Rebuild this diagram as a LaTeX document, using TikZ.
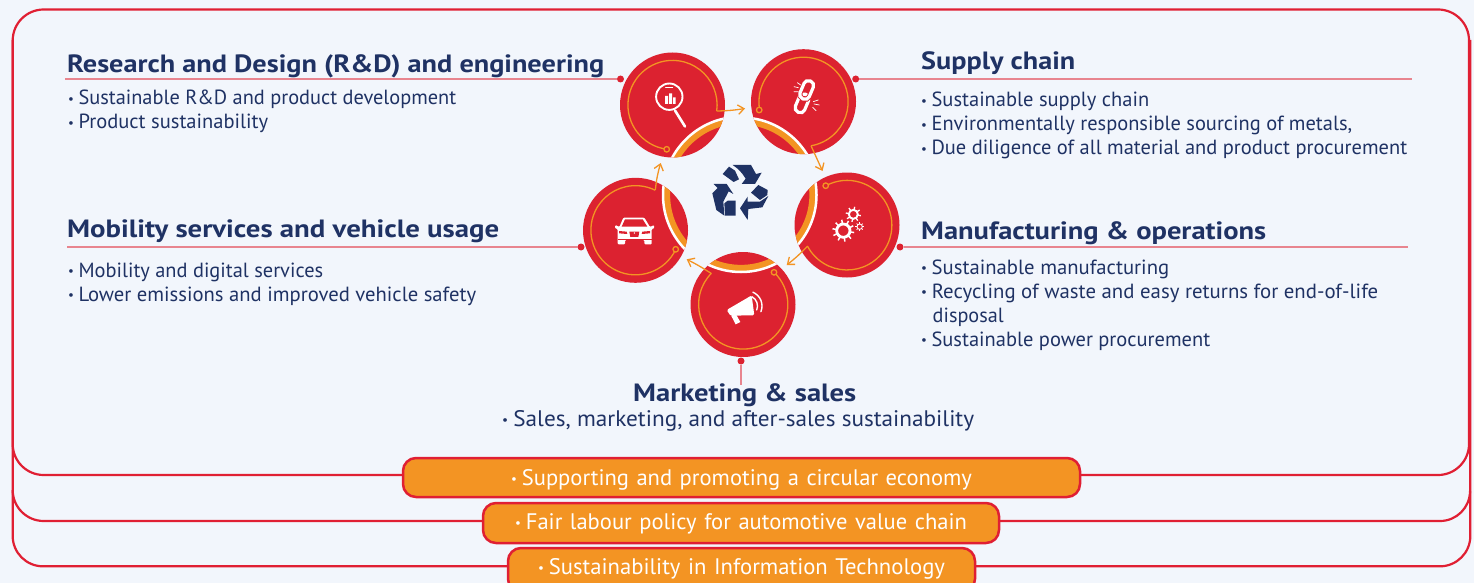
\documentclass[tikz,border=0pt]{standalone}
\usepackage{fontspec}
\usepackage{graphicx}
\usetikzlibrary{arrows.meta}
\setmainfont{PT Sans}
\definecolor{pagebg}{HTML}{F2F6FC}
\definecolor{navy}{HTML}{1F3264}
\definecolor{discred}{HTML}{DC2230}
\definecolor{edgered}{HTML}{E01F33}
\definecolor{paleline}{HTML}{E8858F}
\definecolor{amber}{HTML}{F39423}
\newsavebox\fitbox
\newcommand\fitw[2]{\sbox\fitbox{#2}\pgfmathsetmacro\fitr{#1/\the\wd\fitbox}\scalebox{\fitr}[1]{\usebox\fitbox}}
\newcommand\bul{{\fontsize{13}{13}\selectfont\raisebox{.2ex}{•}}\hspace{.22em}}
\newcommand\discat[4]{%
  \node[discnode] (#1) at (#2,#3) {};
  \begin{scope}
    \clip (#2,#3) circle[radius=52.5];
    \draw[amber,line width=6.5pt] (741,-195) circle[radius=#4-3.9];
    \draw[white,line width=2.5pt] (741,-195) circle[radius=#4];
  \end{scope}}
\newcommand\gearat[7]{% x y ring-radius outer-radius ring-width teeth-step tooth-width
  \draw[iconline,line width=#5] (#1,#2) circle[radius=#3];
  \foreach \a in {0,#6,...,359}{\draw[white,line width=#7] (#1,#2) ++(\a+10:#3) -- ++(\a+10:#4-#3);}}
\tikzset{
  x=1pt,y=1pt,
  discnode/.style={circle,fill=discred,minimum size=105pt,inner sep=0pt,outer sep=0pt},
  headtext/.style={anchor=base west,inner sep=0pt,text=navy,font=\bfseries\fontsize{25}{25}\selectfont},
  bodytext/.style={anchor=base west,inner sep=0pt,text=navy,font=\fontsize{20.5}{24}\selectfont},
  leader/.style={paleline,line width=1.1pt},
  leaddot/.style={circle,fill=discred,minimum size=7pt,inner sep=0pt,outer sep=0pt},
  frameline/.style={edgered,line width=2.2pt},
  ribbon/.style={anchor=north west,draw=edgered,fill=amber,line width=2.5pt,rounded corners=13pt,inner sep=0pt,outer sep=0pt,align=center,text=white,font=\fontsize{22.5}{24}\selectfont},
  circuit/.style={amber,line width=1.3pt},
  flow/.style={circuit,-{Straight Barb[length=6pt,width=9.5pt,line width=1.3pt]}},
  ringmark/.style={circle,draw=amber,fill=discred,line width=1.3pt,minimum size=5.5pt,inner sep=0pt},
  iconline/.style={white,line cap=round},
}
\begin{document}
\begin{tikzpicture}
\useasboundingbox (0,0) rectangle (1474,-583);
\clip (0,0) rectangle (1474,-583);
\fill[pagebg] (0,0) rectangle (1474,-583);

% frames
\draw[frameline] (12.7,-40) -- (12.7,-536) arc[start angle=180,end angle=270,radius=30.3] -- (1440,-566.3) arc[start angle=270,end angle=360,radius=30.3] -- (1470.3,-40);
\draw[frameline] (12.7,-490) arc[start angle=180,end angle=270,radius=31] -- (1440,-521) arc[start angle=270,end angle=360,radius=30] -- (1470,-491);
\draw[frameline] (43.7,-9.5) -- (1438,-9.5) arc[start angle=90,end angle=0,radius=31] -- (1469,-444) arc[start angle=0,end angle=-90,radius=31] -- (43.7,-475) arc[start angle=270,end angle=180,radius=31] -- (12.7,-40.5) arc[start angle=180,end angle=90,radius=31] -- cycle;

% ribbons
\node[ribbon,text width=677pt,text height=27pt,text depth=12pt] (rib1) at (403,-458) {\fitw{461}{\bul Supporting and promoting a circular economy}};
\node[ribbon,text width=516pt,text height=26pt,text depth=14pt] (rib2) at (483,-503) {\fitw{452}{\bul Fair labour policy for automotive value chain}};
\node[ribbon,text width=467pt,text height=26pt,text depth=18pt] (rib3) at (508,-548) {\fitw{407}{\bul Sustainability in Information Technology}};

% discs
\discat{rd}{672.5}{-105}{78.3}
\discat{sc}{803.5}{-101.7}{77.5}
\discat{mf}{847}{-225}{75.5}
\discat{ms}{743}{-304.5}{77}
\discat{mb}{635.5}{-230.3}{78}

% circuits with arrows
\coordinate (rdend) at (716.6,-111);
\coordinate (rdtip) at (745,-108.5);
\coordinate (scend) at (811,-145.7);
\coordinate (sctip) at (822.5,-171);
\coordinate (mfend) at (807.7,-246);
\coordinate (mftip) at (786.7,-265);
\coordinate (msend) at (711.3,-273.5);
\coordinate (mstip) at (686.7,-259.3);
\coordinate (mbend) at (655.3,-190);
\coordinate (mbtip) at (660.7,-163);

\draw[circuit] (666.7,-149.2) arc[start angle=262.5,end angle=-7.7,radius=44.6];
\draw[circuit] (759.7,-110) arc[start angle=190.6,end angle=-80.3,radius=44.6];
\draw[circuit] (825.7,-185.8) arc[start angle=118.5,end angle=-152.1,radius=44.8];
\draw[circuit] (774.2,-272.4) arc[start angle=46,end angle=-224.5,radius=44.6];
\draw[circuit] (675.8,-249.3) arc[start angle=-25.3,end angle=-296.2,radius=44.6];
\draw[flow] (rdend) to[bend right=4] (rdtip);
\draw[flow] (scend) -- (sctip);
\draw[flow] (mfend) to[bend left=4] (mftip);
\draw[flow] (msend) to[bend right=3] (mstip);
\draw[flow] (mbend) to[bend left=5] (mbtip);
\node[ringmark] (rdring) at (666.7,-149.3) {};
\node[ringmark] (scring) at (759.2,-110) {};
\node[ringmark] (mfring) at (825.7,-185.7) {};
\node[ringmark] (msring) at (774,-272.3) {};
\node[ringmark] (mbring) at (675.7,-249.3) {};

% magnifier
\draw[iconline,line width=1.9pt] (669.3,-96.7) circle[radius=13.2];
\draw[iconline,line width=2.6pt] (675,-110.5) -- (685,-126.5);
\draw[iconline,line width=1pt] (665.5,-87.6) -- (672.5,-87.6);
\fill[white] (665,-104) rectangle (668,-96) (669,-104) rectangle (672,-93.5) (673,-104) rectangle (675.5,-97.5);

% chain
\begin{scope}[shift={(780,-70)},xscale=0.3333,yscale=-0.3333]
  \draw[white,line width=3.2pt,rounded corners=4.6pt,rotate around={-67:(66,100)}] (37,85) rectangle (95,115);
  \draw[discred,line width=5pt,rounded corners=4.6pt,rotate around={-67:(80,60)}] (51,45) rectangle (109,75);
  \draw[white,line width=3.2pt,rounded corners=4.6pt,rotate around={-67:(80,60)}] (51,45) rectangle (109,75);
  \draw[iconline,line width=.7pt] (52,38) -- (62,45) (42,50) -- (55,53) (42,65) -- (55,65) (100,95) -- (115,90) (102,102) -- (118,105) (98,112) -- (108,122);
\end{scope}

% gears
\begin{scope}[shift={(825,-200)},xscale=0.3333,yscale=-0.3333]
  \gearat{55}{92}{20}{33}{2.8pt}{36}{1.5pt}
  \gearat{85}{43}{13.5}{23}{1.9pt}{45}{1.3pt}
  \draw[iconline,line width=.9pt] (104,80) circle[radius=8];
  \foreach \a in {0,45,...,315}{\draw[white,line width=.7pt] (104,80) ++(\a:8) -- ++(\a:5);}
\end{scope}

% megaphone
\begin{scope}[shift={(570,-170)},xscale=0.3333,yscale=-0.3333]
  \fill[white,rounded corners=1.5pt] (470,420) -- (525,388) -- (545,376) -- (553,436) -- (525,436) -- (482,438) -- cycle;
  \fill[white] (484,438) -- (497,463) -- (511,456) -- (498,433) -- cycle;
\end{scope}
\draw[iconline,line width=1.4pt] (747,-306) ++(-22:10.5) arc[start angle=-22,end angle=62,radius=10.5];
\draw[iconline,line width=1.4pt] (747,-306) ++(-22:15) arc[start angle=-22,end angle=67,radius=15];

% car
\begin{scope}[shift={(605,-205)},xscale=0.3333,yscale=-0.3333]
  \fill[white,rounded corners=1pt] (55,38) -- (118,38) -- (135,66) -- (147,60) -- (148,70) -- (140,72) -- (140,118) -- (118,118) -- (118,105) -- (60,105) -- (60,118) -- (38,118) -- (38,72) -- (30,70) -- (31,60) -- (43,66) -- cycle;
  \fill[discred] (60,43) -- (113,43) -- (127,65) -- (50,65) -- cycle;
  \fill[discred] (42,78) -- (65,80) -- (67,87) -- (42,85) -- cycle;
  \fill[discred] (135,78) -- (112,80) -- (110,87) -- (135,85) -- cycle;
  \fill[discred] (73,80) -- (103,80) -- (100,96) -- (76,96) -- cycle;
  \fill[white] (88,84) circle[radius=2.5];
  \draw[discred,line width=.6pt] (38,103) -- (140,103);
\end{scope}

% recycling mark
\begin{scope}[shift={(705,-160)},xscale=0.3333,yscale=-0.3333]
  \fill[navy] (83,15) -- (138,15) -- (153,42) -- (170,38) -- (150,72) -- (110,72) -- (122,56) to[bend left=12] cycle;
  \fill[navy] (53,42) -- (72,20) -- (90,32) -- (102,58) -- (86,66) -- cycle;
  \fill[navy] (26,72) -- (65,72) -- (85,102) -- (71,94) -- (55,125) -- (58,167) -- (34,150) -- (22,100) -- (38,84) -- cycle;
  \fill[navy] (60,167) -- (58,130) -- (68,122) -- (92,122) -- (92,167) -- cycle;
  \fill[navy] (128,110) -- (128,125) -- (165,125) -- (190,108) -- (172,142) -- (130,147) -- (128,180) -- (105,145) -- cycle;
  \fill[navy] (138,98) -- (160,75) -- (188,90) -- (187,105) -- (165,120) -- cycle;
\end{scope}

% leaders
\node[leaddot] (rddot) at (620.5,-79) {};
\coordinate (rdline) at (65,-79);
\draw[leader] (rddot) -- (rdline);
\node[leaddot] (scdot) at (855.7,-79) {};
\coordinate (scline) at (1412,-79);
\draw[leader] (scdot) -- (scline);
\node[leaddot] (mbdot) at (581,-247) {};
\coordinate (mbline) at (67,-247);
\draw[leader] (mbdot) -- (mbline);
\node[leaddot] (mfdot) at (900,-247) {};
\coordinate (mfline) at (1408,-247);
\draw[leader] (mfdot) -- (mfline);
\node[leaddot] (msdot) at (741,-361) {};
\coordinate (msline) at (741,-385);
\draw[leader] (msdot) -- (msline);

% R&D
\node[headtext] (t1) at (67,-72.5) {\fitw{537}{Research and Design (R\&D) and engineering}};
\node[bodytext] (t1a) at (68,-105) {\fitw{388}{\bul Sustainable R\&D and product development}};
\node[bodytext] (t1b) at (68,-128.5) {\fitw{200}{\bul Product sustainability}};
% supply
\node[headtext] (t2) at (921,-70) {\fitw{154}{Supply chain}};
\node[bodytext] (t2a) at (921,-107) {\fitw{228}{\bul Sustainable supply chain}};
\node[bodytext] (t2b) at (921,-131) {\fitw{431}{\bul Environmentally responsible sourcing of metals,}};
\node[bodytext] (t2c) at (921,-154.5) {\fitw{486}{\bul Due diligence of all material and product procurement}};
% mobility
\node[headtext] (t3) at (67,-237) {\fitw{432}{Mobility services and vehicle usage}};
\node[bodytext] (t3a) at (68,-277) {\fitw{255}{\bul Mobility and digital services}};
\node[bodytext] (t3b) at (68,-301) {\fitw{408}{\bul Lower emissions and improved vehicle safety}};
% manufacturing
\node[headtext] (t4) at (921,-239) {\fitw{345}{Manufacturing \& operations}};
\node[bodytext] (t4a) at (921,-274) {\fitw{248}{\bul Sustainable manufacturing}};
\node[bodytext] (t4b) at (921,-298) {\fitw{457}{\bul Recycling of waste and easy returns for end-of-life}};
\node[bodytext] (t4c) at (932.5,-322) {\fitw{71}{disposal}};
\node[bodytext] (t4d) at (921,-346) {\fitw{289}{\bul Sustainable power procurement}};
% marketing
\node[headtext] (t5) at (633,-401) {\fitw{223}{Marketing \& sales}};
\node[bodytext,font=\fontsize{22.5}{24}\selectfont] (t5a) at (502,-426) {\fitw{472}{\bul Sales, marketing, and after-sales sustainability}};
\end{tikzpicture}
\end{document}
